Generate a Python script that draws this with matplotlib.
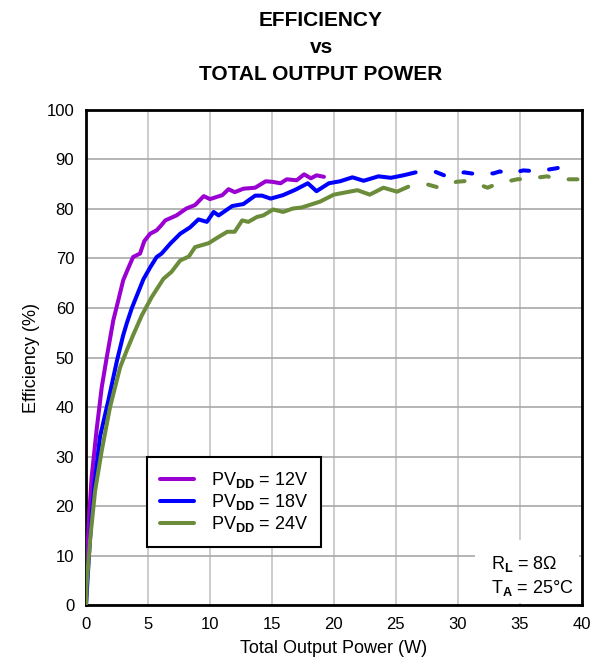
"""
Efficiency vs total output power (three PVDD supplies)
"""
import matplotlib
matplotlib.use('Agg')
import matplotlib.pyplot as plt
from matplotlib.patches import Rectangle

plt.rcParams['font.family'] = ['Liberation Sans', 'DejaVu Sans']
plt.rcParams['mathtext.fontset'] = 'custom'
plt.rcParams['mathtext.rm'] = 'Liberation Sans'
plt.rcParams['mathtext.it'] = 'Liberation Sans'
plt.rcParams['mathtext.bf'] = 'Liberation Sans:bold'

# 12V curve (all solid)
p12_w = [0, 0.1, 0.25, 0.46, 0.86, 1.27, 1.67, 2.2, 2.6, 3.0, 3.4, 3.8, 4.36, 4.7,
         5.17, 5.7, 6.0, 6.4, 7.3, 8.1, 8.8, 9.5, 10.0, 11.0, 11.5, 12.0, 12.7,
         13.65, 14.5, 15.0, 15.7, 16.2, 17.0, 17.6, 18.15, 18.6, 19.2]
p12_eff = [0, 10, 18, 26, 35.5, 44, 50, 57.5, 61.5, 65.6, 68, 70.3, 71.0, 73.5,
           75.0, 75.7, 76.5, 77.7, 78.7, 80.1, 80.8, 82.6, 82.0, 82.8, 84.0, 83.4, 84.1,
           84.3, 85.6, 85.5, 85.2, 86.0, 85.8, 87.0, 86.2, 86.8, 86.5]

# 18V curve, solid up to 26.6 W then dashed
p18_w = [0, 0.24, 0.45, 0.73, 1.13, 1.8, 2.5, 3.0, 3.3, 3.7, 4.1, 4.63, 5.2, 5.7, 6.1,
         6.8, 7.6, 8.4, 9.07, 9.75, 10.3, 10.7, 11.8, 12.7, 13.65, 14.2, 14.9, 15.9,
         16.9, 17.9, 18.6, 19.6, 20.5, 21.5, 22.4, 23.6, 24.6, 25.6, 26.6]
p18_eff = [0, 10, 18, 25.5, 34, 41.3, 49.4, 54.5, 57, 60, 62.5, 65.8, 68.3, 70.3, 71,
           73, 75, 76.3, 77.9, 77.4, 79.4, 78.7, 80.6, 81, 82.7, 82.7, 82.1, 82.8,
           83.9, 85.2, 83.6, 85.2, 85.6, 86.4, 85.7, 86.6, 86.3, 86.8, 87.4]
p18_w_dash = [26.6, 27.5, 28.2, 29.1, 30.5, 31.6, 32.9, 33.4, 34.0, 35.3, 36.4, 37.9, 38.3, 38.8]
p18_eff_dash = [87.4, 87.5, 87.5, 86.6, 87.4, 87.0, 87.2, 87.6, 87.1, 87.8, 87.6, 88.2, 88.4, 87.5]

# 24V curve, solid up to 26 W then dashed
p24_w = [0, 0.05, 0.32, 0.73, 1.27, 1.94, 2.75, 3.3, 3.8, 4.5, 5.3, 6.25, 6.9, 7.6,
         8.3, 8.8, 9.9, 10.6, 11.4, 12.0, 12.6, 13.1, 13.8, 14.3, 15.1, 15.9, 16.7,
         17.4, 18.9, 20.0, 21.9, 22.9, 24.0, 25.1, 26.0]
p24_eff = [0, 4, 13, 23, 31.2, 40, 48, 51.5, 54.5, 58.5, 62.2, 65.9, 67.3, 69.6,
           70.4, 72.3, 73.1, 74.2, 75.4, 75.4, 77.7, 77.4, 78.4, 78.7, 79.9, 79.4, 80.1,
           80.3, 81.5, 82.9, 83.8, 82.9, 84.3, 83.5, 84.5]
p24_w_dash = [26.0, 27.5, 28.5, 29.9, 30.9, 32.4, 33.3, 34.8, 35.7, 37.2, 38.1, 39.8, 40.5]
p24_eff_dash = [84.5, 85.0, 84.3, 85.5, 85.7, 84.3, 85.2, 86.0, 86.1, 86.6, 86.0, 86.0, 86.0]

labels = [r'PV$_{\mathbf{DD}}$ = 12V', r'PV$_{\mathbf{DD}}$ = 18V', r'PV$_{\mathbf{DD}}$ = 24V']
COLORS = ['#9b00d3', '#0000ff', '#6b8c3a']
LW = 2.9
DASH = (2.2, (2.2, 5.0))

fig = plt.figure(figsize=(5.99, 6.61), dpi=100)
ax = fig.add_axes([0.1436, 0.0847, 0.8275, 0.7489])

ax.plot(p12_w, p12_eff, color=COLORS[0], lw=LW, solid_capstyle='round', label=labels[0], zorder=3)
ax.plot(p18_w, p18_eff, color=COLORS[1], lw=LW, solid_capstyle='round', label=labels[1], zorder=3)
ax.plot(p24_w, p24_eff, color=COLORS[2], lw=LW, solid_capstyle='round', label=labels[2], zorder=3)
ax.plot(p18_w_dash, p18_eff_dash, color=COLORS[1], lw=LW, linestyle=DASH,
        dash_capstyle='round', zorder=3)
ax.plot(p24_w_dash, p24_eff_dash, color=COLORS[2], lw=LW, linestyle=DASH,
        dash_capstyle='round', zorder=3)

ax.set_xlim(0, 40)
ax.set_ylim(0, 100)
ax.set_xticks(range(0, 41, 5))
ax.set_yticks(range(0, 101, 10))
ax.tick_params(length=0, labelsize=12, pad=8.5)
ax.xaxis.grid(True, color='#c4c4c4', lw=1.2)
ax.yaxis.grid(True, color='#a8a8a8', lw=1.2)
for s in ax.spines.values():
    s.set_linewidth(2)
    s.set_color('black')

ax.set_xlabel('Total Output Power (W)', fontsize=13, labelpad=6)
ax.set_ylabel('Efficiency (%)', fontsize=13, labelpad=5)

leg = ax.legend(loc='upper left', bbox_to_anchor=(0.1237, 0.2984), borderaxespad=0,
                fontsize=13, handlelength=1.9, handletextpad=0.9, labelspacing=0.12,
                borderpad=0.7, fancybox=False, framealpha=1)
leg.get_frame().set_edgecolor('black')
leg.get_frame().set_linewidth(1.5)
for h in leg.get_lines():
    h.set_solid_capstyle('round')

# conditions box
ax.add_patch(Rectangle((0.785, 0.004), 0.21, 0.127, transform=ax.transAxes,
                       facecolor='white', edgecolor='none', zorder=2))
ax.text(0.818, 0.103, 'R$_\\mathbf{L}$ = 8Ω\nT$_\\mathbf{A}$ = 25°C', transform=ax.transAxes,
        fontsize=13, va='top', ha='left', linespacing=1.25, zorder=4)

fig.text(0.536, 1 - 11 / 661, 'EFFICIENCY\nvs\nTOTAL OUTPUT POWER', ha='center', va='top',
         fontsize=15, fontweight='bold', linespacing=1.55)

fig.savefig('out.png', dpi=100)
